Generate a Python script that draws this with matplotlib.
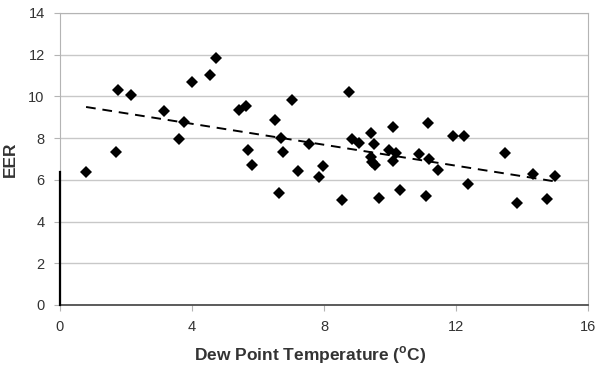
import numpy as np
import matplotlib
matplotlib.use("Agg")
import matplotlib.pyplot as plt

plt.rcParams['font.family'] = ['Liberation Sans', 'DejaVu Sans']
plt.rcParams['mathtext.fontset'] = 'custom'
plt.rcParams['mathtext.rm'] = 'Liberation Sans'
plt.rcParams['mathtext.bf'] = 'Liberation Sans:bold'

dew_point = [0.79, 1.69, 1.77, 2.15, 3.15, 3.62, 3.75, 3.99, 4.56, 4.72,
             5.42, 5.63, 5.71, 5.83, 6.51, 6.63, 6.70, 6.77, 7.03, 7.20,
             7.55, 7.86, 7.98, 8.55, 8.76, 8.86, 9.07, 9.42, 9.50, 9.41,
             9.44, 9.55, 9.67, 9.98, 10.08, 10.10, 10.18, 10.30, 10.88, 11.09,
             11.14, 11.19, 11.46, 11.92, 12.25, 12.36, 13.47, 13.84, 14.34, 14.77,
             14.99]
eer = [6.39, 7.35, 10.31, 10.08, 9.28, 7.94, 8.76, 10.71, 11.04, 11.83,
       9.33, 9.54, 7.43, 6.71, 8.87, 5.39, 8.02, 7.33, 9.83, 6.42,
       7.73, 6.14, 6.67, 5.05, 10.20, 7.97, 7.79, 8.27, 7.70, 7.08,
       6.87, 6.72, 5.15, 7.42, 6.92, 8.53, 7.28, 5.53, 7.24, 5.21,
       8.74, 7.00, 6.46, 8.09, 8.09, 5.80, 7.27, 4.87, 6.28, 5.10,
       6.20]
x_ticks = [0, 4, 8, 12, 16]
y_ticks = [0, 2, 4, 6, 8, 10, 12, 14]

fig = plt.figure(figsize=(5.98, 3.67), dpi=100)
ax = fig.add_axes([60/598, 62/367, 528/598, 292/367])

grey = '#b4b4b4'
ax.set_xlim(0, 16)
ax.set_ylim(0, 14)
ax.set_xticks(x_ticks)
ax.set_yticks(y_ticks)
ax.yaxis.grid(True, color='#c8c8c8', lw=1.0)
ax.set_axisbelow(True)
for side in ['top', 'right', 'left']:
    ax.spines[side].set_color(grey)
ax.spines['bottom'].set_color('#404040')
ax.spines['bottom'].set_linewidth(1.2)
# darker stretch of the y axis near the origin
ax.plot([0, 0], [0, 6.4], color='black', lw=1.6, clip_on=False, zorder=3)

ax.tick_params(axis='both', direction='out', length=4, width=0.8, color=grey,
               labelsize=10.5, labelcolor='#333333')
ax.tick_params(axis='y', pad=7)
ax.tick_params(axis='x', pad=7)

ax.plot(dew_point, eer, 'D', color='black', ms=6.2, mew=0, zorder=4)

# linear trend over the data range
slope, intercept = np.polyfit(dew_point, eer, 1)
xs = np.array([min(dew_point), max(dew_point)])
ax.plot(xs, slope*xs + intercept, color='black', lw=1.4, ls=(0, (5, 3.5)), zorder=3)

ax.set_xlabel(r'Dew Point Temperature ($^{\mathbf{o}}$C)', fontsize=12.5,
              fontweight='bold', color='#333333')
ax.xaxis.set_label_coords(250/528, -39/292)
ax.set_ylabel('EER', fontsize=12.5, fontweight='bold', color='#333333')
ax.yaxis.set_label_coords(-42/528, 0.5)

fig.savefig('out.png', dpi=100)
